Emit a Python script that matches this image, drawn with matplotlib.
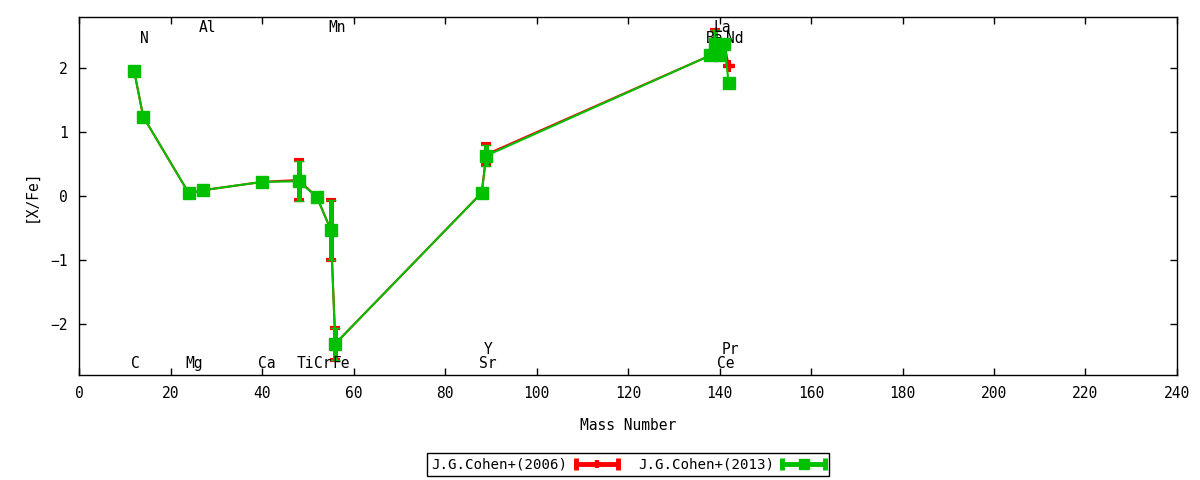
import numpy as np
import matplotlib
matplotlib.use('Agg')
import matplotlib.pyplot as plt
from matplotlib.lines import Line2D
from matplotlib.legend_handler import HandlerBase

plt.rcParams['font.family'] = 'DejaVu Sans Mono'
plt.rcParams['font.size'] = 10.5

### abundance data
elements = ['C', 'N', 'Mg', 'Al', 'Ca', 'Ti', 'Cr', 'Mn', 'Fe',
            'Sr', 'Y', 'Ba', 'La', 'Ce', 'Pr', 'Nd']
mass = [12, 14, 24, 27, 40, 48, 52, 55, 56, 88, 89, 138, 139, 140, 141, 142]

# J.G.Cohen+(2006)
xfe_2006 = [1.96, 1.24, 0.04, 0.09, 0.22, 0.25, -0.02, -0.53, -2.31,
            0.05, 0.65, 2.20, 2.38, 2.20, 2.38, 2.04]
err_2006 = [0, 0, 0, 0, 0, 0.32, 0, 0.47, 0.25,
            0, 0.16, 0, 0.22, 0, 0, 0]

# J.G.Cohen+(2013)
xfe_2013 = [1.96, 1.24, 0.04, 0.09, 0.22, 0.23, -0.02, -0.53, -2.31,
            0.05, 0.63, 2.20, 2.38, 2.20, 2.38, 1.77]
err_2013 = [0, 0, 0, 0, 0, 0.31, 0, 0.47, 0.25,
            0, 0.16, 0, 0.22, 0, 0, 0]

# element name labels (x, y in data units)
label_x = [12.2, 14.2, 25.2, 28.1, 41.1, 49.5, 53.3, 56.4, 57.2,
           89.3, 89.5, 139.0, 140.5, 141.4, 142.3, 143.4]
label_y = [-2.62, 2.47, -2.62, 2.64, -2.62, -2.62, -2.62, 2.64, -2.62,
           -2.62, -2.40, 2.47, 2.64, -2.62, -2.40, 2.47]


# gnuplot-like key sample: line with end caps and the point in the middle
class ErrKeyHandler(HandlerBase):
    def create_artists(self, legend, orig_handle, xdescent, ydescent,
                       width, height, fontsize, trans):
        data_line = orig_handle[0]
        c = data_line.get_color()
        y = height / 2 - ydescent
        x0, x1 = -xdescent, width - xdescent
        ln = Line2D([x0, x1], [y, y], color=c, lw=3.5, transform=trans)
        caps = Line2D([x0, x1], [y, y], color=c, ls='none', marker='|',
                      ms=8, mew=3.5, transform=trans)
        pt = Line2D([(x0 + x1) / 2], [y], color=c, ls='none',
                    marker=data_line.get_marker(), ms=data_line.get_markersize() * 0.8,
                    mew=data_line.get_markeredgewidth(), transform=trans)
        return [ln, caps, pt]


fig = plt.figure(figsize=(12, 4.8), dpi=100)
ax = fig.add_axes([0.066, 0.2188, 0.9148, 0.7458])

# 2013 drawn fully on top of 2006 (bars included)
e1 = ax.errorbar(mass, xfe_2006, yerr=err_2006, color='#ff0000', lw=1.5,
                 elinewidth=3.5, capsize=3.5, capthick=3.5,
                 marker='+', ms=8, mew=3, zorder=2,
                 label='J.G.Cohen+(2006)')
e2 = ax.errorbar(mass, xfe_2013, yerr=err_2013, color='#00c000', lw=1.5,
                 elinewidth=3.5, capsize=3.5, capthick=3.5,
                 marker='s', ms=8.5, mew=1, zorder=3,
                 label='J.G.Cohen+(2013)')

for name, lx, ly in zip(elements, label_x, label_y):
    ax.text(lx, ly, name, ha='center', va='center', fontsize=10.5)

ax.set_xlim(0, 240)
ax.set_ylim(-2.8, 2.8)
ax.set_xticks(np.arange(0, 241, 20))
ax.set_yticks([-2, -1, 0, 1, 2])
ax.tick_params(direction='in', top=True, right=True, length=5, width=1,
               labelsize=10.5, pad=8)
for s in ax.spines.values():
    s.set_linewidth(1)

ax.set_xlabel('Mass Number', fontsize=10.5, labelpad=12)
ax.set_ylabel('[X/Fe]', fontsize=10.5, labelpad=9)

leg = fig.legend([e1, e2], ['J.G.Cohen+(2006)', 'J.G.Cohen+(2013)'],
                 handler_map={type(e1): ErrKeyHandler()},
                 loc='center', bbox_to_anchor=(0.5234, 0.032), ncol=2,
                 markerfirst=False, fancybox=False, edgecolor='black',
                 framealpha=1, borderpad=0.3, handlelength=3.0,
                 handletextpad=0.6, columnspacing=1.4, fontsize=10.2)
leg.get_frame().set_linewidth(1)

fig.savefig('out.png', dpi=100)
